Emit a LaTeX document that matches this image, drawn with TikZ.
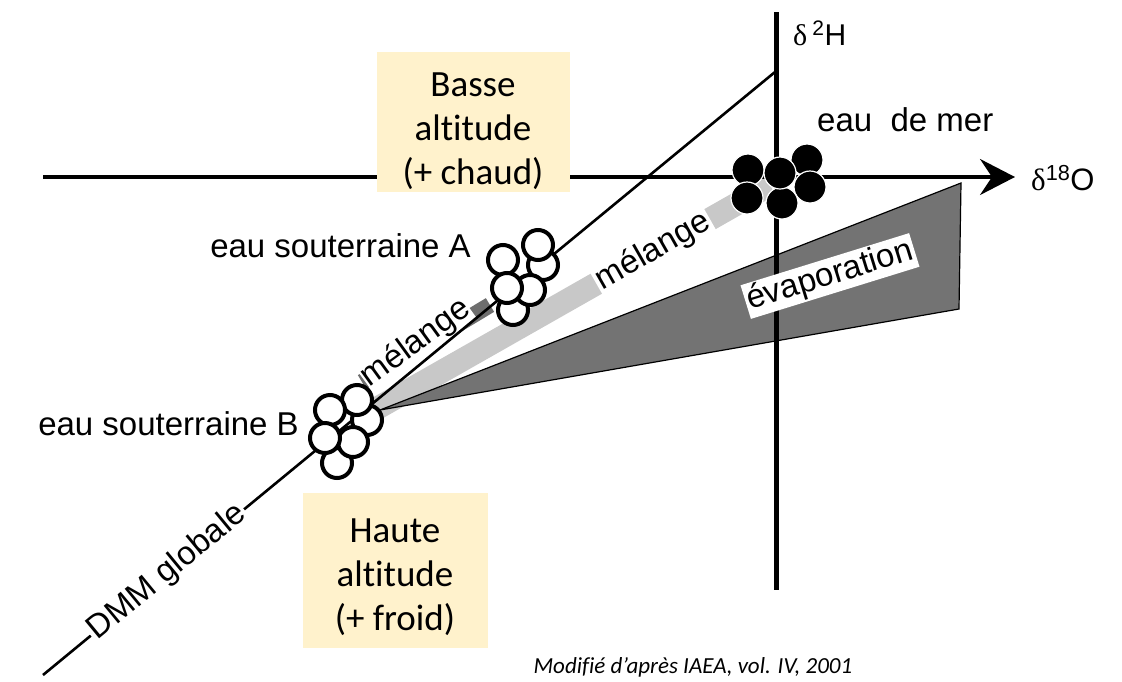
\documentclass[tikz,border=0pt]{standalone}
\usepackage{fontspec}
\setmainfont{Liberation Sans}
\newfontfamily\calibri{Carlito}[Ligatures=NoCommon]
\newfontfamily\greek{Liberation Serif}
\usepackage{tikz}
\usetikzlibrary{arrows.meta}
\usetikzlibrary{positioning,calc}
\definecolor{cream}{HTML}{FFF2CC}
\definecolor{darkband}{HTML}{6E6E6E}
\definecolor{lightband}{HTML}{C8C8C8}
\definecolor{wedgegray}{HTML}{737373}
\tikzset{
	altbox/.style={
		rectangle,
		fill=cream,
		align=center,
		inner sep=2pt,
		font=\calibri\fontsize{37}{44}\selectfont,
	},
	tag/.style={
		inner sep=1pt,
		font=\fontsize{33}{38}\selectfont,
	},
	tagbox/.style={
		tag,
		fill=white,
		inner sep=2pt,
	},
	opencirc/.style={draw=black, line width=4pt, fill=white},
	seacirc/.style={draw=white, line width=1.2pt, fill=black},
}

\begin{document}
\begin{tikzpicture}[x=1pt,y=-1pt]
	\useasboundingbox (0,0) rectangle (1122,681);
	
	% axes and main points
	\coordinate (XL) at (43,177);
	\coordinate (XR) at (1015,177);
	\coordinate (YT) at (776,12);
	\coordinate (YB) at (776,590);
	\coordinate (DMMLOW) at (43,675);
	\coordinate (DMMTOP) at (775,72);
	\coordinate (APEX) at (380,410);
	\coordinate (EVTOP) at (961,183);
	\coordinate (EVBOT) at (959,309);
	\coordinate (MIXB) at (360,418);
	\coordinate (MIXM) at (770,185);
	\coordinate (MIXB2) at (362,382);
	\coordinate (MIXA) at (490,305);
	\coordinate (MER) at (816,131);
	
	% grey bands
	\draw[lightband, line width=23pt] (MIXB) -- (MIXM);
	\draw[black, line width=1.2pt, fill=wedgegray] (APEX) -- (EVTOP) -- (EVBOT) -- cycle;
	\draw[darkband, line width=16pt] (MIXB2) -- (MIXA);
	
	% axes
	\draw[line width=3.5pt, -{Stealth[length=35pt,width=36pt,inset=12pt]}] (XL) -- (XR);
	\draw[line width=5pt] (YT) -- (YB);
	
	% band labels
	\path (MIXB) -- (MIXM) node[tagbox, pos=0.715, sloped] (MEL2) {mélange};
	\node[tagbox, rotate=17.2] (EVAP) at (830,276) {évaporation};
	\node[tagbox, rotate=36, inner sep=0.5pt] (MEL1) at (416,343) {mélange};
	
	% DMM line
	\draw[line width=2.6pt] (DMMLOW) -- (DMMTOP)
	node[tagbox, pos=0.17, sloped] (DMM) {DMM globale};
	
	% clusters
	\foreach \x/\y in {543/265, 538/245, 503/260, 513/310, 530/290, 507/288}
		\draw[opencirc] (\x,\y) circle (15);
	\foreach \x/\y in {367/420, 357/400, 330/410, 337/463, 353/442, 325/438}
		\draw[opencirc] (\x,\y) circle (15);
	\foreach \x/\y in {748/170, 807/160, 810/187, 747/198, 782/203, 780/173}
		\draw[seacirc] (\x,\y) circle (16);
	
	% boxes
	\node[altbox, minimum width=193pt, minimum height=140pt] (BASSE) at (473,122)
	{\rule{0pt}{42pt}Basse\\altitude\\(+ chaud)};
	\node[altbox, minimum width=185pt, minimum height=155pt] (HAUTE) at (395,570)
	{\rule{0pt}{38pt}Haute\\altitude\\(+ froid)};
	
	% texts
	\node[tag, anchor=base east] (EAUA) at (472,257) {eau souterraine A};
	\node[tag, anchor=base east] (EAUB) at (300,435) {eau souterraine B};
	\node[tag, anchor=base west] (EAUMER) at (MER) {eau\ \ de mer};
	\node[tag, anchor=base west, font=\fontsize{30}{34}\selectfont] (D2H) at (792,45)
	{{\greek δ}\,\textsuperscript{2}H};
	\node[tag, anchor=base west, font=\fontsize{31}{34}\selectfont] (D18O) at (1030,190)
	{{\greek δ}\textsuperscript{18}O};
	\node[anchor=base west, font=\calibri\itshape\fontsize{23}{28}\selectfont] (SOURCE) at (530,673)
	{Modifié d’après IAEA, vol. IV, 2001};
	
\end{tikzpicture}
\end{document}
